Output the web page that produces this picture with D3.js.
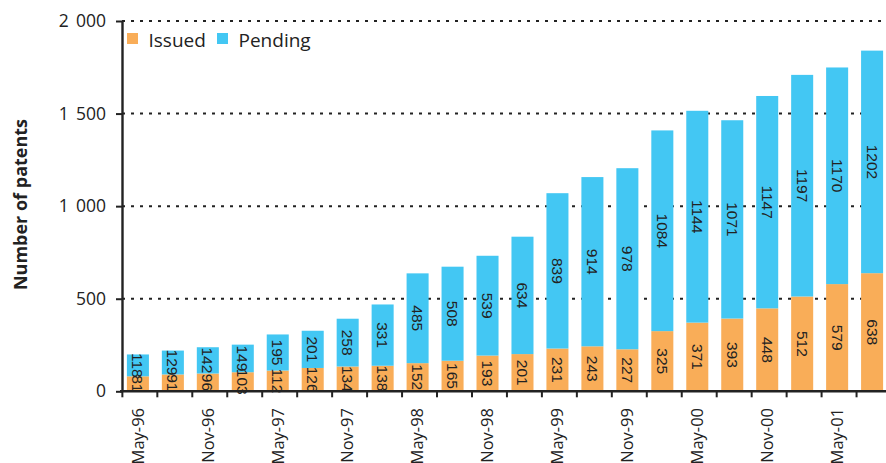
<!DOCTYPE html>
<html>
<head>
<meta charset="utf-8">
<script src="https://cdn.jsdelivr.net/npm/d3@7"></script>
<style>
  body { margin: 0; background: #fff; }
  svg { display: block; }
</style>
</head>
<body>
<svg id="chart" width="886" height="463"></svg>
<script>
// Quarterly patent counts, stacked: issued at the bottom, pending on top
const periods = ["May-96","Aug-96","Nov-96","Feb-97","May-97","Aug-97","Nov-97","Feb-98",
                 "May-98","Aug-98","Nov-98","Feb-99","May-99","Aug-99","Nov-99","Feb-00",
                 "May-00","Aug-00","Nov-00","Feb-01","May-01","Aug-01"];
const tickLabels = ["May-96","Nov-96","May-97","Nov-97","May-98","Nov-98",
                    "May-99","Nov-99","May-00","Nov-00","May-01"];
const issued  = [81, 91, 96, 103, 112, 126, 134, 138, 152, 165, 193, 201,
                 231, 243, 227, 325, 371, 393, 448, 512, 579, 638];
const pending = [118, 129, 142, 149, 195, 201, 258, 331, 485, 508, 539, 634,
                 839, 914, 978, 1084, 1144, 1071, 1147, 1197, 1170, 1202];
const yTicks = [0, 500, 1000, 1500, 2000];
const seriesNames = ["Issued", "Pending"];
const seriesColors = ["#F9AD58", "#43C7F3"];

const ink = "#222";
const uiFont = "'Open Sans', Lato, sans-serif";
const svg = d3.select("#chart");

const x = d3.scaleBand().domain(periods).range([122, 888])
  .paddingInner(0.37).paddingOuter(0.14);
const y = d3.scaleLinear().domain([0, 2000]).range([391.3, 21]);
const bw = x.bandwidth();

const fmt = d3.formatLocale({ decimal: ".", thousands: "\u2005\u2009", grouping: [3], currency: ["", ""] }).format(",d");

// dotted gridlines
svg.append("g").selectAll("line").data(yTicks.filter(d => d > 0)).join("line")
  .attr("x1", 122).attr("x2", 886)
  .attr("y1", d => y(d)).attr("y2", d => y(d))
  .attr("stroke", ink).attr("stroke-width", 2).attr("stroke-dasharray", "3,6");

const rows = periods.map((p, i) => ({ p, iss: issued[i], pen: pending[i] }));

// bars
const bars = svg.append("g");
bars.selectAll("rect.iss").data(rows).join("rect").attr("class", "iss")
  .attr("x", d => x(d.p)).attr("width", bw)
  .attr("y", d => y(d.iss)).attr("height", d => y(0) - y(d.iss))
  .attr("fill", seriesColors[0]);
bars.selectAll("rect.pen").data(rows).join("rect").attr("class", "pen")
  .attr("x", d => x(d.p)).attr("width", bw)
  .attr("y", d => y(d.iss + d.pen)).attr("height", d => y(d.iss) - y(d.iss + d.pen))
  .attr("fill", seriesColors[1]);

// value labels, rotated, centred in each segment
const lab = svg.append("g")
  .attr("font-family", "'Liberation Sans Narrow', 'Arial Narrow', sans-serif")
  .attr("font-size", 15.5).attr("fill", ink).attr("text-anchor", "middle");
lab.selectAll("text.iss").data(rows).join("text").attr("class", "iss")
  .attr("transform", d => `translate(${x(d.p) + bw / 2},${(y(0) + y(d.iss)) / 2}) rotate(90)`)
  .attr("dy", "0.35em").text(d => d.iss);
lab.selectAll("text.pen").data(rows).join("text").attr("class", "pen")
  .attr("transform", d => `translate(${x(d.p) + bw / 2},${(y(d.iss) + y(d.iss + d.pen)) / 2}) rotate(90)`)
  .attr("dy", "0.35em").text(d => d.pen);

// y axis
const yAxis = svg.append("g").attr("transform", "translate(122,0)")
  .call(d3.axisLeft(y).tickValues(yTicks).tickFormat(fmt).tickSize(6).tickSizeOuter(0).tickPadding(10));
yAxis.select(".domain").attr("stroke", ink).attr("stroke-width", 2.4);
yAxis.selectAll(".tick line").attr("stroke", ink).attr("stroke-width", 2);
yAxis.selectAll(".tick text").attr("font-family", uiFont).attr("font-size", 17.5).attr("fill", ink);

// x axis: baseline with ticks between bars
const gap = x.step() - bw;
const xAxis = svg.append("g");
xAxis.append("line").attr("x1", 120).attr("x2", 886).attr("y1", y(0)).attr("y2", y(0))
  .attr("stroke", ink).attr("stroke-width", 2.4);
xAxis.selectAll("line.tk").data(periods).join("line").attr("class", "tk")
  .attr("x1", d => x(d) - gap * 0.35).attr("x2", d => x(d) - gap * 0.35)
  .attr("y1", y(0)).attr("y2", y(0) + 6)
  .attr("stroke", ink).attr("stroke-width", 2);
xAxis.selectAll("text").data(tickLabels).join("text")
  .attr("transform", d => `translate(${x(d) + bw / 2},408) rotate(-90)`)
  .attr("dy", "0.35em").attr("text-anchor", "end")
  .attr("font-family", uiFont).attr("font-size", 16.5).attr("fill", ink)
  .text(d => d);

// y title
svg.append("text").attr("transform", "translate(21,204.5) rotate(-90)")
  .attr("dy", "0.35em").attr("text-anchor", "middle")
  .attr("font-family", uiFont).attr("font-weight", "bold").attr("font-size", 18)
  .attr("fill", ink).text("Number of patents");

// legend
const legX = [127, 217];
const leg = svg.append("g");
seriesNames.forEach((name, i) => {
  leg.append("rect").attr("x", legX[i]).attr("y", 33).attr("width", 11).attr("height", 11)
    .attr("fill", seriesColors[i]);
  leg.append("text").attr("x", legX[i] + 21.5).attr("y", 46.5)
    .attr("font-family", uiFont).attr("font-size", 19).attr("fill", ink)
    .text(name);
});
</script>
</body>
</html>
